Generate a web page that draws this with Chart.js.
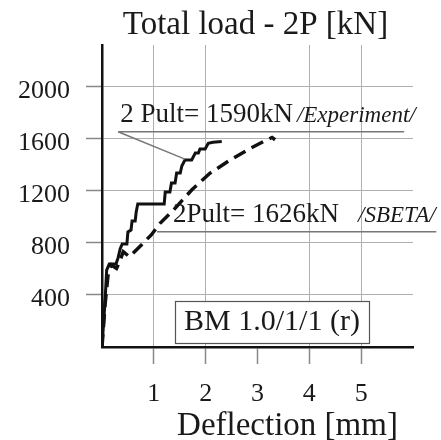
<!DOCTYPE html>
<html><head><meta charset="utf-8">
<script src="https://cdn.jsdelivr.net/npm/chart.js@4/dist/chart.umd.min.js"></script>
<style>html,body{margin:0;padding:0;background:#fff;}#wrap{width:441px;height:440px;}</style>
</head><body><div id="wrap"><canvas id="c" width="441" height="440"></canvas></div>
<script>
// ---- data ----
const expDeflection = [0,0.06,0.09,0.14,0.27,0.31,0.35,0.39,0.48,0.50,0.56,0.58,0.64,0.66,0.69,1.20,1.22,1.31,1.34,1.41,1.44,1.51,1.54,1.60,1.73,1.80,1.86,1.89,1.99,2.05,2.14,2.31];
const expLoad       = [0,362,592,638,638,685,754,792,792,885,900,969,969,1038,1100,1100,1192,1192,1262,1262,1338,1338,1392,1438,1438,1492,1492,1523,1523,1567,1575,1580];
const sbetaDeflection = [0,0.06,0.12,0.18,0.28,0.34,0.41,0.53,0.76,0.95,1.12,1.38,1.73,2.08,2.47,2.86,3.11,3.28,3.34];
const sbetaLoad       = [0,330,567,631,605,656,733,694,785,862,951,1054,1208,1336,1438,1528,1579,1612,1594];
const xTickValues = [1,2,3,4,5];
const yTickValues = [400,800,1200,1600,2000];
const titleText = 'Total load - 2P [kN]';
const xTitleText = 'Deflection [mm]';
const expLabel = ['2 Pult= 1590kN', '/Experiment/'];
const sbetaLabel = ['2Pult= 1626kN', '/SBETA/'];
const specimenLabel = 'BM 1.0/1/1 (r)';

// ---- annotation placement (in data units) ----
const notes = {
  exp:   {textX:0.35, textY:1733, italicX:3.76, lineY:1656, lineX0:0.31, lineX1:5.83, leadX:1.60, leadY:1445},
  sbeta: {textX:1.37, textY:964,  italicX:4.94, lineY:887,  lineX0:1.06, lineX1:6.45},
  box:   {x0:1.41, x1:5.15, y0:31, y1:354, textY:131}
};
const SERIF = '"Liberation Serif","Times New Roman",serif';
const GRID = '#b0b0b0';

const annotPlugin = {
  id: 'annot',
  afterDatasetsDraw(chart) {
    const {ctx, chartArea: ca, scales: {x, y}} = chart;
    const X = v => x.getPixelForValue(v), Y = v => y.getPixelForValue(v);
    ctx.save();
    ctx.fillStyle = '#1a1a1a';
    ctx.textBaseline = 'alphabetic';
    ctx.font = '33px ' + SERIF;
    ctx.textAlign = 'center';
    ctx.fillText(titleText, (ca.left + ca.right) / 2 - 2, 34);
    ctx.fillText(xTitleText, (ca.left + ca.right) / 2 + 30, 435);
    ctx.textAlign = 'left';
    ctx.font = '27px ' + SERIF;
    ctx.fillText(expLabel[0], X(notes.exp.textX), Y(notes.exp.textY));
    ctx.font = 'italic 23px ' + SERIF;
    ctx.fillText(expLabel[1], X(notes.exp.italicX), Y(notes.exp.textY));
    ctx.strokeStyle = '#777';
    ctx.lineWidth = 1.5;
    ctx.beginPath();
    ctx.moveTo(X(notes.exp.lineX0), Y(notes.exp.lineY));
    ctx.lineTo(X(notes.exp.lineX1), Y(notes.exp.lineY));
    ctx.moveTo(X(notes.exp.lineX0), Y(notes.exp.lineY));
    ctx.lineTo(X(notes.exp.leadX), Y(notes.exp.leadY));
    ctx.stroke();
    ctx.font = '27px ' + SERIF;
    ctx.fillText(sbetaLabel[0], X(notes.sbeta.textX), Y(notes.sbeta.textY));
    ctx.font = 'italic 23px ' + SERIF;
    ctx.fillText(sbetaLabel[1], X(notes.sbeta.italicX), Y(notes.sbeta.textY));
    ctx.beginPath();
    ctx.moveTo(X(notes.sbeta.lineX0), Y(notes.sbeta.lineY));
    ctx.lineTo(X(notes.sbeta.lineX1), Y(notes.sbeta.lineY));
    ctx.stroke();
    const bx0 = X(notes.box.x0), bx1 = X(notes.box.x1), by0 = Y(notes.box.y1), by1 = Y(notes.box.y0);
    ctx.fillStyle = '#fff';
    ctx.fillRect(bx0, by0, bx1 - bx0, by1 - by0);
    ctx.strokeStyle = '#555';
    ctx.lineWidth = 1.2;
    ctx.strokeRect(Math.round(bx0) + 0.5, Math.round(by0) + 0.5, Math.round(bx1 - bx0), Math.round(by1 - by0));
    ctx.fillStyle = '#1a1a1a';
    ctx.font = '30px ' + SERIF;
    ctx.textAlign = 'center';
    ctx.fillText(specimenLabel, (bx0 + bx1) / 2, Y(notes.box.textY));
    ctx.restore();
  }
};

const toPts = (xs, ys) => xs.map((v, i) => ({x: v, y: ys[i]}));

new Chart(document.getElementById('c'), {
  type: 'line',
  data: {
    datasets: [
      {label: 'SBETA', data: toPts(sbetaDeflection, sbetaLoad), borderColor: '#111', borderWidth: 3.5,
       borderDash: [13, 7], pointRadius: 0, fill: false, tension: 0},
      {label: 'Experiment', data: toPts(expDeflection, expLoad), borderColor: '#111', borderWidth: 3,
       pointRadius: 0, fill: false, tension: 0, borderJoinStyle: 'miter'}
    ]
  },
  options: {
    responsive: false,
    animation: false,
    events: [],
    layout: {padding: {top: 45, right: 28, left: 0, bottom: 0}},
    plugins: {legend: {display: false}, title: {display: false}, tooltip: {enabled: false}},
    scales: {
      x: {
        type: 'linear', min: 0, max: 6,
        afterBuildTicks: s => { s.ticks = xTickValues.map(v => ({value: v})); },
        afterFit: s => { s.height = 93; },
        grid: {color: [GRID, GRID, 'rgba(0,0,0,0)', GRID, GRID], lineWidth: 1,
               tickLength: 17, tickColor: '#888', tickWidth: 1.5},
        border: {color: '#111', width: 2.5},
        ticks: {font: {family: SERIF, size: 26}, color: '#1a1a1a', padding: 15, maxRotation: 0,
                callback: v => String(v)}
      },
      y: {
        type: 'linear', min: 0, max: 2323,
        afterBuildTicks: s => { s.ticks = yTickValues.map(v => ({value: v})); },
        afterFit: s => { s.width = 102; },
        grid: {color: GRID, lineWidth: 1, tickLength: 16, tickColor: '#888', tickWidth: 1.5},
        border: {color: '#111', width: 2.5},
        ticks: {font: {family: SERIF, size: 26}, color: '#1a1a1a', padding: 16, labelOffset: 4,
                callback: v => String(v)}
      }
    }
  },
  plugins: [annotPlugin]
});
</script></body></html>
